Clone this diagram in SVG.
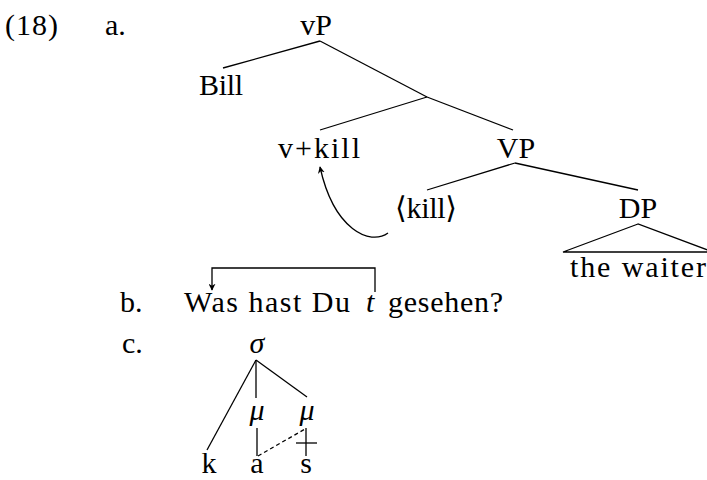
<svg xmlns="http://www.w3.org/2000/svg" width="707" height="480" viewBox="0 0 707 480">
<defs>
<style>
text{font-family:"Liberation Serif","DejaVu Serif",serif;font-size:30px;fill:#000}
.c{text-anchor:middle}
.i{font-style:italic}
.e{stroke:#000;stroke-width:1.3;fill:none}
</style>
<marker id="ah" viewBox="0 0 10 10" refX="9" refY="5" markerWidth="7" markerHeight="7" orient="auto" markerUnits="userSpaceOnUse">
<path d="M0,0 L10,5 L0,10 L3,5 Z" fill="#000"/>
</marker>
</defs>
<rect width="707" height="480" fill="#fff"/>
<g id="labels">
<text x="5" y="35" textLength="53">(18)</text>
<text x="105" y="35">a.</text>
<text x="120" y="312">b.</text>
<text x="122" y="353">c.</text>
</g>
<g id="connectors">
<line class="e" x1="320" y1="41" x2="223" y2="68"/>
<line class="e" x1="320" y1="41" x2="427" y2="97"/>
<line class="e" x1="427" y1="97" x2="320" y2="130"/>
<line class="e" x1="427" y1="97" x2="513" y2="130"/>
<line class="e" x1="515" y1="163" x2="427" y2="190"/>
<line class="e" x1="515" y1="163" x2="638" y2="190"/>
<polygon class="e" points="638,224 563,252 713,252"/>
<path class="e" d="M388,233 C370,246 334,230 320,167" marker-end="url(#ah)"/>
<path class="e" d="M375,292 L375,268 L212,268 L212,290" marker-end="url(#ah)"/>
<line class="e" x1="256" y1="360" x2="207" y2="450"/>
<line class="e" x1="256" y1="360" x2="256" y2="398"/>
<line class="e" x1="256" y1="360" x2="307" y2="397"/>
<line class="e" x1="257" y1="428" x2="257" y2="456"/>
<line class="e" x1="258" y1="456" x2="305" y2="429" stroke-dasharray="4,3"/>
<line class="e" x1="306" y1="428" x2="306" y2="456"/>
<line class="e" x1="296" y1="443" x2="317" y2="443"/>
</g>
<g id="n-vP"><text class="c" x="316" y="35">vP</text></g>
<g id="n-Bill"><text class="c" x="221" y="95" textLength="44">Bill</text></g>
<g id="n-vkill"><text class="c" x="319" y="158" textLength="82">v+kill</text></g>
<g id="n-VP"><text class="c" x="516" y="158">VP</text></g>
<g id="n-killtrace"><text class="c" x="426" y="218" textLength="62">⟨kill⟩</text></g>
<g id="n-DP"><text class="c" x="638" y="218">DP</text></g>
<g id="n-waiter"><text class="c" x="638" y="277" textLength="136">the waiter</text></g>
<g id="n-sentence">
<text x="184" y="312" textLength="166">Was hast Du</text>
<text class="i" x="366" y="312">t</text>
<text x="388" y="312" textLength="115">gesehen?</text>
</g>
<g id="n-sigma"><text class="c i" x="257" y="353">σ</text></g>
<g id="n-mu1"><text class="c i" x="257" y="420">μ</text></g>
<g id="n-mu2"><text class="c i" x="307" y="420">μ</text></g>
<g id="n-k"><text class="c" x="209" y="473">k</text></g>
<g id="n-a"><text class="c" x="257" y="473">a</text></g>
<g id="n-s"><text class="c" x="306" y="473">s</text></g>
</svg>
